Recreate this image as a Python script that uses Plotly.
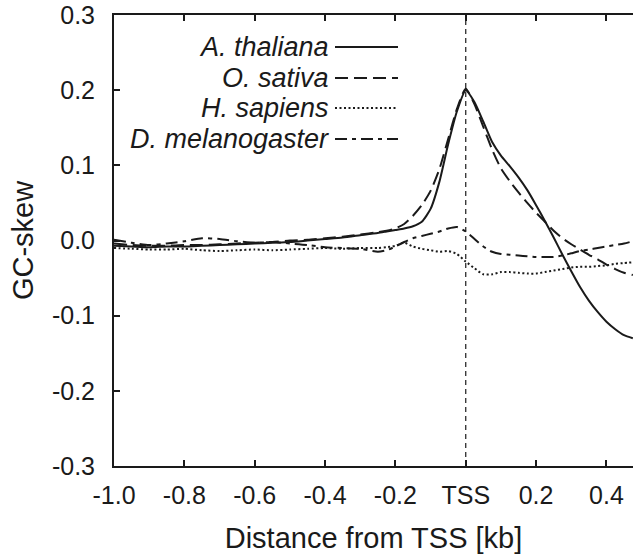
import plotly.graph_objects as go

# ---- data ----
x_kb = [-1.0, -0.95, -0.9, -0.85, -0.8, -0.75, -0.7, -0.65, -0.6, -0.55, -0.5, -0.45,
        -0.4, -0.35, -0.3, -0.25, -0.225, -0.2, -0.175, -0.15, -0.125, -0.1, -0.075,
        -0.05, -0.025, 0.0, 0.025, 0.05, 0.075, 0.1, 0.125, 0.15, 0.175, 0.2, 0.225,
        0.25, 0.275, 0.3, 0.325, 0.35, 0.375, 0.4, 0.425, 0.45, 0.475]

a_thaliana = [-0.007, -0.008, -0.009, -0.008, -0.008, -0.007, -0.006, -0.005, -0.004, -0.003,
              -0.002, 0.000, 0.002, 0.004, 0.007, 0.010, 0.012, 0.014, 0.016, 0.019, 0.025,
              0.042, 0.078, 0.128, 0.172, 0.200, 0.184, 0.158, 0.131, 0.113, 0.099, 0.084,
              0.067, 0.047, 0.026, 0.004, -0.019, -0.041, -0.062, -0.080, -0.095, -0.108,
              -0.118, -0.126, -0.130]

o_sativa = [-0.004, -0.006, -0.007, -0.007, -0.006, -0.006, -0.005, -0.004, -0.003, -0.002,
            0.000, 0.001, 0.003, 0.005, 0.008, 0.011, 0.013, 0.016, 0.022, 0.033, 0.047,
            0.066, 0.095, 0.135, 0.175, 0.202, 0.181, 0.151, 0.121, 0.096, 0.079, 0.064,
            0.050, 0.037, 0.025, 0.013, 0.003, -0.005, -0.012, -0.019, -0.025, -0.032,
            -0.038, -0.043, -0.046]

h_sapiens = [-0.010, -0.011, -0.012, -0.012, -0.011, -0.013, -0.014, -0.013, -0.012, -0.013,
             -0.012, -0.011, -0.010, -0.011, -0.010, -0.010, -0.009, -0.007, -0.003, -0.008,
             -0.011, -0.013, -0.015, -0.014, -0.018, -0.028, -0.037, -0.045, -0.045, -0.042,
             -0.042, -0.043, -0.044, -0.044, -0.042, -0.040, -0.038, -0.036, -0.035, -0.035,
             -0.034, -0.033, -0.031, -0.030, -0.029]

d_melanogaster = [0.001, -0.003, -0.006, -0.004, -0.001, 0.003, 0.002, -0.001, -0.003, -0.002,
                  -0.004, -0.006, -0.009, -0.010, -0.011, -0.015, -0.013, -0.008, -0.002, 0.003,
                  0.006, 0.009, 0.012, 0.016, 0.018, 0.012, 0.002, -0.008, -0.015, -0.018,
                  -0.019, -0.020, -0.021, -0.022, -0.022, -0.022, -0.020, -0.017, -0.014,
                  -0.012, -0.010, -0.008, -0.006, -0.004, -0.001]

series_names = ["A. thaliana", "O. sativa", "H. sapiens", "D. melanogaster"]
series_values = [a_thaliana, o_sativa, h_sapiens, d_melanogaster]
series_dash = ["solid", "13px,6px", "2px,2.5px", "12px,5px,4px,5px"]

x_tickvals = [-1.0, -0.8, -0.6, -0.4, -0.2, 0.0, 0.2, 0.4]
x_ticktext = ["-1.0", "-0.8", "-0.6", "-0.4", "-0.2", "TSS", "0.2", "0.4"]
y_tickvals = [-0.3, -0.2, -0.1, 0.0, 0.1, 0.2, 0.3]
y_ticktext = ["-0.3", "-0.2", "-0.1", "0.0", "0.1", "0.2", "0.3"]

FONT = "Liberation Sans, Arial, sans-serif"
W, H = 633, 555
ML, MR, MT, MB = 114, 0, 15, 89
PW, PH = W - ML - MR, H - MT - MB

fig = go.Figure()
for name, vals, dash in zip(series_names, series_values, series_dash):
    fig.add_trace(go.Scatter(x=x_kb, y=vals, mode="lines", name=name,
                             line=dict(color="#1a1a1a", width=2, dash=dash, shape="spline",
                                       smoothing=0.6),
                             showlegend=False, hoverinfo="skip"))

# TSS reference line
fig.add_shape(type="line", xref="x", yref="paper", x0=0, x1=0, y0=0, y1=1,
              line=dict(color="#1a1a1a", width=1.2, dash="5px,4px"), layer="below")

# custom legend: text on the left, line sample on the right
def px2paper_x(px):
    return (px - ML) / PW

def px2paper_y(py):
    return (MT + PH - py) / PH

leg_rows = [47, 78, 108, 139]
for name, dash, ry in zip(series_names, series_dash, leg_rows):
    fig.add_annotation(xref="paper", yref="paper", x=px2paper_x(331), y=px2paper_y(ry),
                       text=name, showarrow=False, xanchor="right", yanchor="middle",
                       font=dict(family=FONT, size=27, color="#1a1a1a", style="italic"))
    fig.add_shape(type="line", xref="paper", yref="paper",
                  x0=px2paper_x(335), x1=px2paper_x(398),
                  y0=px2paper_y(ry), y1=px2paper_y(ry),
                  line=dict(color="#1a1a1a", width=2, dash=dash))

fig.update_layout(
    width=W, height=H,
    margin=dict(l=ML, r=MR, t=MT, b=MB, autoexpand=False),
    paper_bgcolor="white", plot_bgcolor="white",
    font=dict(family=FONT, color="#1a1a1a"),
    xaxis=dict(range=[-1.0, 0.4755], tickvals=x_tickvals, ticktext=x_ticktext,
               ticks="inside", ticklen=6, tickwidth=1.5, tickcolor="#1a1a1a",
               showline=True, linewidth=2, linecolor="#1a1a1a", mirror="ticks",
               showgrid=False, zeroline=False, tickfont=dict(size=25),
               ticklabelstandoff=6, automargin=False,
               title=dict(text="Distance from TSS [kb]", font=dict(size=29), standoff=20)),
    yaxis=dict(range=[-0.3, 0.3], tickvals=y_tickvals, ticktext=y_ticktext,
               ticks="inside", ticklen=6, tickwidth=1.5, tickcolor="#1a1a1a",
               showline=True, linewidth=2, linecolor="#1a1a1a", mirror=False,
               showgrid=False, zeroline=False, tickfont=dict(size=25),
               ticklabelstandoff=12, automargin=False,
               title=dict(text="GC-skew", font=dict(size=29), standoff=10)),
)

fig.write_html("out.html", config={"displayModeBar": False},
               post_script="document.body.style.margin='0px';document.body.style.overflow='hidden';")
